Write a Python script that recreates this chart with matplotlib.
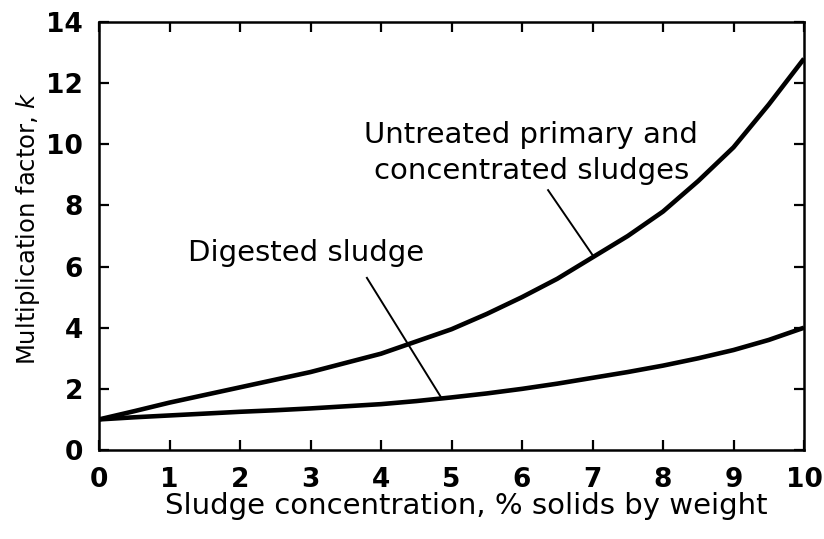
import matplotlib
matplotlib.use("Agg")
import matplotlib.pyplot as plt

plt.rcParams['font.family'] = ['DejaVu Sans']

x_conc = [0, 0.5, 1, 1.5, 2, 2.5, 3, 3.5, 4, 4.5, 5, 5.5, 6, 6.5, 7, 7.5, 8, 8.5, 9, 9.5, 10]
k_untreated = [1.0, 1.27, 1.55, 1.8, 2.05, 2.3, 2.55, 2.85, 3.15, 3.55, 3.95, 4.45,
               5.0, 5.6, 6.3, 7.0, 7.8, 8.8, 9.9, 11.3, 12.8]
k_digested = [1.0, 1.07, 1.13, 1.19, 1.25, 1.3, 1.36, 1.43, 1.5, 1.6, 1.72, 1.85,
              2.0, 2.17, 2.36, 2.55, 2.76, 3.0, 3.27, 3.6, 4.0]

x_ticks = list(range(0, 11))
y_ticks = list(range(0, 15, 2))

label_untreated = "Untreated primary and\nconcentrated sludges"
label_digested = "Digested sludge"

fig = plt.figure(figsize=(8.24, 5.39), dpi=100)
ax = fig.add_axes([99/824, 1-450/539, (804-99)/824, (450-22)/539])

ax.plot(x_conc, k_untreated, color='black', lw=3.3, solid_capstyle='butt')
ax.plot(x_conc, k_digested, color='black', lw=3.3, solid_capstyle='butt')

ax.set_xlim(0, 10)
ax.set_ylim(0, 14)
ax.set_xticks(x_ticks)
ax.set_yticks(y_ticks)

for s in ax.spines.values():
    s.set_linewidth(1.8)

ax.tick_params(direction='in', length=7, width=1.6, top=True, right=True,
               labelsize=19)
ax.tick_params(axis='x', pad=12.5)
ax.tick_params(axis='y', pad=11.5)
for lab in ax.get_xticklabels() + ax.get_yticklabels():
    lab.set_fontweight('bold')

ax.set_xlabel("Sludge concentration, % solids by weight", fontsize=21)
ax.xaxis.set_label_coords((466-99)/705, -(506-450)/428)
ax.xaxis.label.set_va('center')
ax.set_ylabel("Multiplication factor, $\\mathit{k}$", fontsize=17.5)
ax.yaxis.set_label_coords(-(99-28)/705, (450-228)/428)
ax.yaxis.label.set_va('center')

# annotations
ax.text(6.13, 9.72, label_untreated, ha='center', va='center', fontsize=21,
        linespacing=1.35)
ax.plot([6.37, 7.0], [8.5, 6.38], color='black', lw=1.4)
ax.text(2.94, 6.44, label_digested, ha='center', va='center', fontsize=21)
ax.plot([3.80, 4.85], [5.63, 1.73], color='black', lw=1.4)

fig.savefig("out.png", dpi=100)
